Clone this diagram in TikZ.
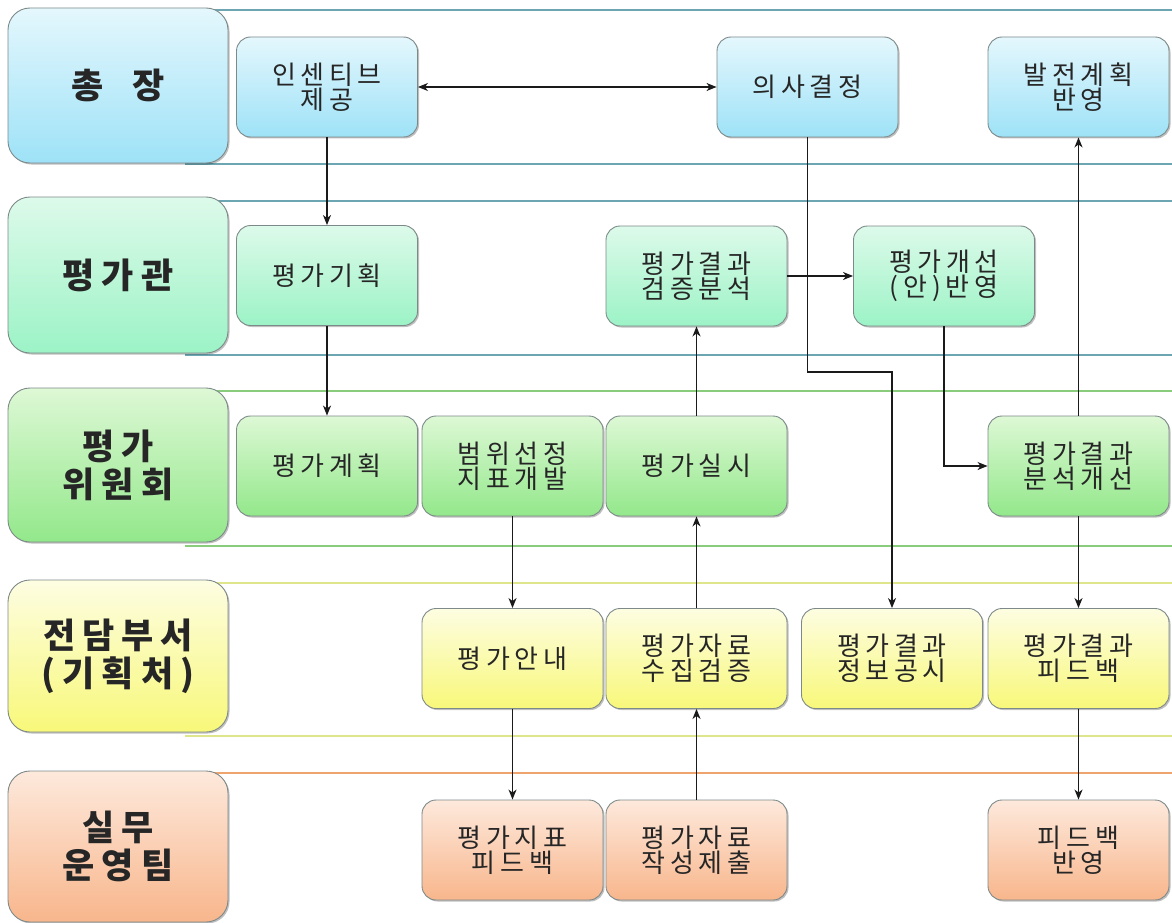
\documentclass[tikz,border=0pt]{standalone}
\usepackage{fontspec}
\setmainfont{Noto Sans CJK KR}
\usetikzlibrary{shadows,arrows.meta}
\definecolor{bordergray}{HTML}{7E8A8A}
\definecolor{linedark}{HTML}{1A1A1A}
\definecolor{ca}{HTML}{E4F7FD}\definecolor{cab}{HTML}{9EE2F7}
\definecolor{cb}{HTML}{DDFAEA}\definecolor{cbb}{HTML}{9CF3C6}
\definecolor{cc}{HTML}{DDF8D5}\definecolor{ccb}{HTML}{93E88B}
\definecolor{cd}{HTML}{FDFDE2}\definecolor{cdb}{HTML}{F8F87A}
\definecolor{ce}{HTML}{FDE9DC}\definecolor{ceb}{HTML}{F8B68C}
\definecolor{la}{HTML}{6CA6B2}
\definecolor{lc}{HTML}{88CC7C}
\definecolor{ld}{HTML}{DFE58A}
\definecolor{le}{HTML}{EFA46E}
\tikzset{
  boxbase/.style={draw=bordergray, line width=0.9pt, align=center, inner sep=0pt,
    text=black!85,
    drop shadow={shadow xshift=1.5pt, shadow yshift=-1.5pt, opacity=0.25, fill=black}},
  lab/.style={boxbase, rounded corners=22pt, minimum width=220pt,
    font=\fontsize{35}{38}\selectfont\bfseries\addfontfeature{LetterSpace=20}},
  pbox/.style={boxbase, rounded corners=14pt, minimum width=181pt, minimum height=100pt,
    font=\fontsize{26}{25}\selectfont\addfontfeature{LetterSpace=18}},
  rowa/.style={top color=ca, bottom color=cab},
  rowb/.style={top color=cb, bottom color=cbb},
  rowc/.style={top color=cc, bottom color=ccb},
  rowd/.style={top color=cd, bottom color=cdb},
  rowe/.style={top color=ce, bottom color=ceb},
  lane/.style={line width=1.3pt},
  arr/.style={draw=linedark, line width=1.2pt, -{Stealth[length=10pt,width=8pt,inset=3pt]}},
}
\begin{document}
\begin{tikzpicture}[x=1pt,y=-1pt]
\useasboundingbox (0,0) rectangle (1172,923);
\fill[white] (0,0) rectangle (1172,923);
% lane lines
\draw[lane,la] (185,10) -- (1172,10);
\draw[lane,la] (185,164) -- (1172,164);
\draw[lane,la] (185,201) -- (1172,201);
\draw[lane,la] (185,355) -- (1172,355);
\draw[lane,lc] (185,391) -- (1172,391);
\draw[lane,lc] (185,546) -- (1172,546);
\draw[lane,ld] (185,583) -- (1172,583);
\draw[lane,ld] (185,736) -- (1172,736);
\draw[lane,le] (185,773) -- (1172,773);
% lane labels
\node[lab,rowa,minimum height=155pt] (lab1) at (118,85.5) {총\hspace{0.8em}장};
\node[lab,rowb,minimum height=156pt] (lab2) at (118,275) {평가관};
\node[lab,rowc,minimum height=154pt] (lab3) at (118,465) {평가\\위원회};
\node[lab,rowd,minimum height=152pt] (lab4) at (118,656) {전담부서\\(기획처)};
\node[lab,rowe,minimum height=151pt] (lab5) at (118,846.5) {실무\\운영팀};
% row 1
\node[pbox,rowa] (ins) at (327,87) {인센티브\\제공};
\node[pbox,rowa] (dec) at (807.5,87) {의사결정};
\node[pbox,rowa] (dev) at (1078.5,87) {발전계획\\반영};
% row 2
\node[pbox,rowb] (pln) at (327,275.5) {평가기획};
\node[pbox,rowb] (ver) at (696.5,276) {평가결과\\검증분석};
\node[pbox,rowb] (imp) at (944,276) {평가개선\\(안)반영};
% row 3
\node[pbox,rowc] (plan) at (327,466) {평가계획};
\node[pbox,rowc] (rng) at (512.5,466) {범위선정\\지표개발};
\node[pbox,rowc] (exe) at (696.5,466) {평가실시};
\node[pbox,rowc] (ana) at (1078.5,466) {평가결과\\분석개선};
% row 4
\node[pbox,rowd] (gui) at (512.5,658.5) {평가안내};
\node[pbox,rowd] (col) at (696.5,658.5) {평가자료\\수집검증};
\node[pbox,rowd] (dis) at (892,658.5) {평가결과\\정보공시};
\node[pbox,rowd] (fdb) at (1078.5,658.5) {평가결과\\피드백};
% row 5
\node[pbox,rowe] (idx) at (512.5,850) {평가지표\\피드백};
\node[pbox,rowe] (sub) at (696.5,850) {평가자료\\작성제출};
\node[pbox,rowe] (fbr) at (1078.5,850) {피드백\\반영};
% connectors
\draw[arr,{Stealth[length=10pt,width=8pt,inset=3pt]}-{Stealth[length=10pt,width=8pt,inset=3pt]}] (ins.east) -- (dec.west);
\draw[arr] (ins.south) -- (pln.north);
\draw[arr] (pln.south) -- (plan.north);
\draw[arr] (rng.south) -- (gui.north);
\draw[arr] (gui.south) -- (idx.north);
\draw[arr] (sub.north) -- (col.south);
\draw[arr] (col.north) -- (exe.south);
\draw[arr] (exe.north) -- (ver.south);
\draw[arr] (ver.east) -- (imp.west);
\coordinate (k1) at (807.5,372);
\draw[arr] (dec.south) -- (k1) -| (dis.north);
\draw[arr] (imp.south) |- (ana.west);
\draw[arr] (ana.north) -- (dev.south);
\draw[arr] (ana.south) -- (fdb.north);
\draw[arr] (fdb.south) -- (fbr.north);
\end{tikzpicture}
\end{document}
